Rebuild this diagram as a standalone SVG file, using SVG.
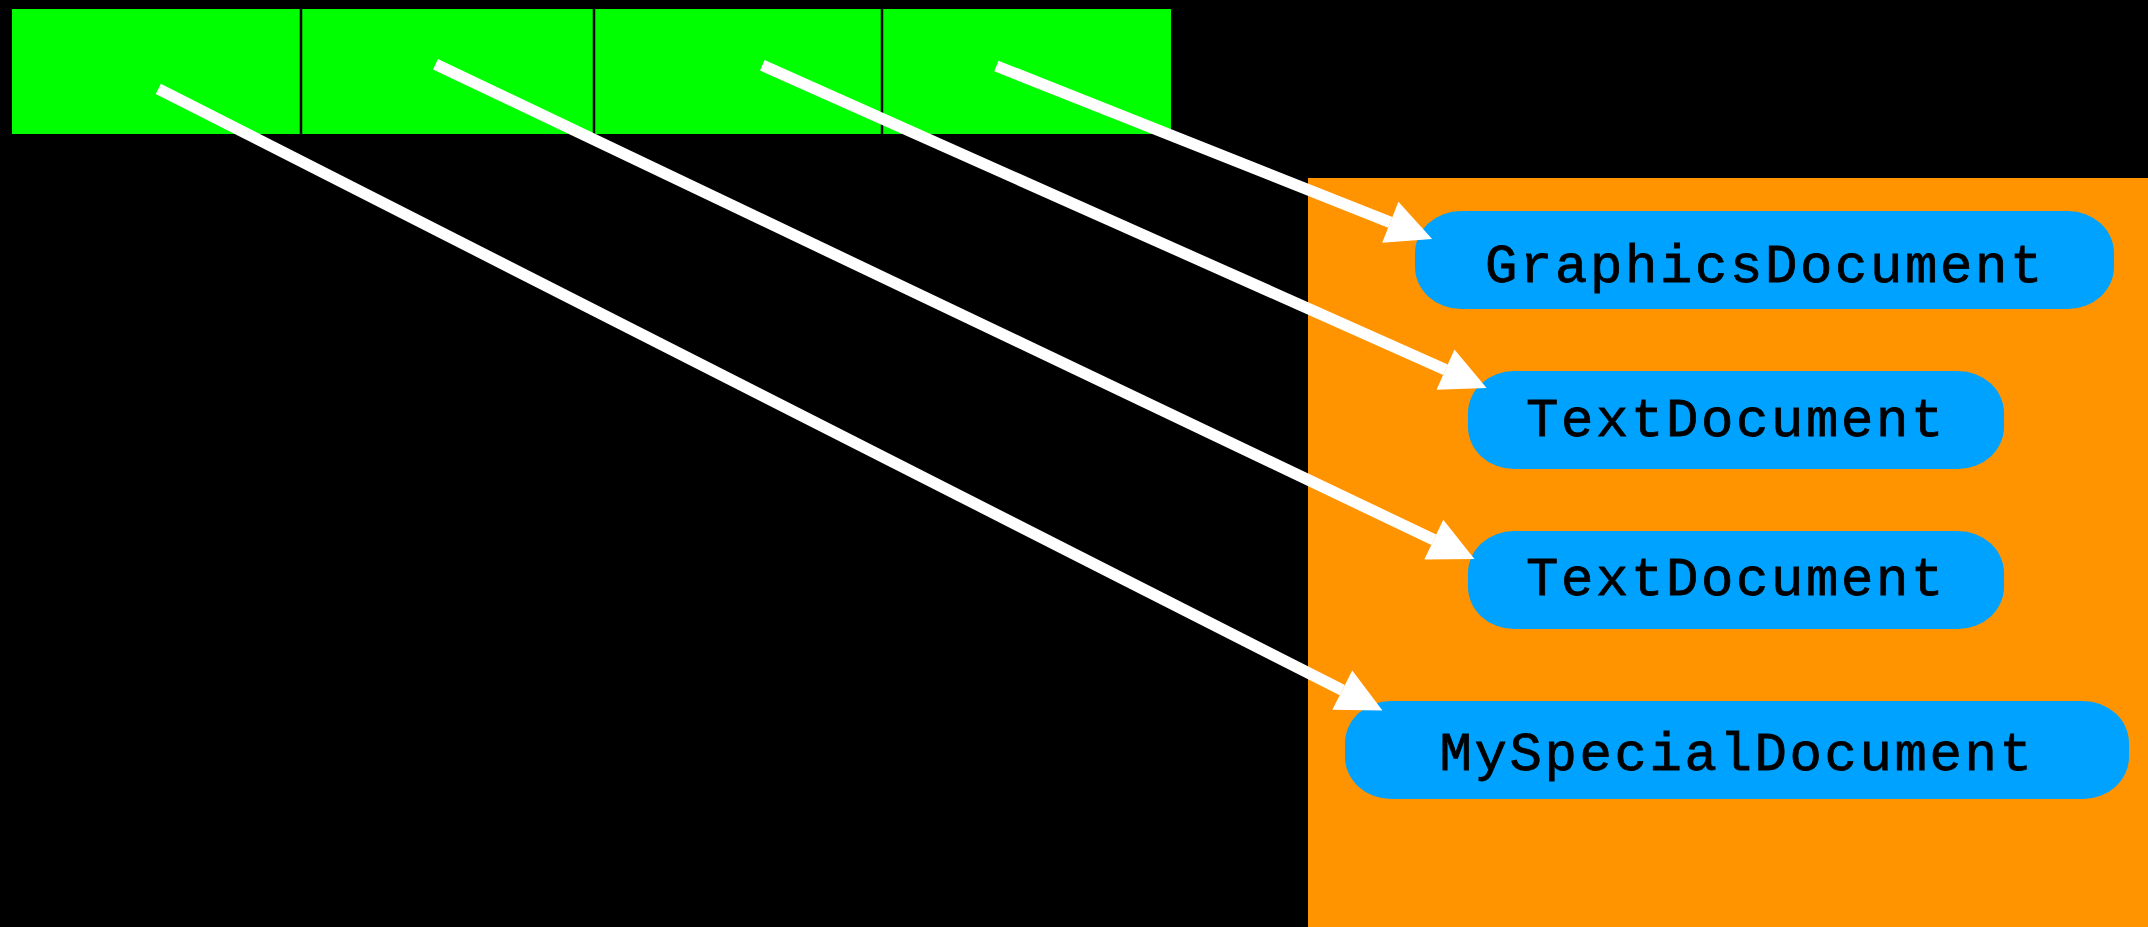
<svg xmlns="http://www.w3.org/2000/svg" width="2148" height="927" viewBox="0 0 2148 927">
  <style>
    .cell { fill: #00ff00; }
    .div { stroke: #000000; stroke-width: 2.5; }
    .cluster { fill: #ff9400; }
    .node rect { fill: #00a2ff; }
    .node text { font-family: "Liberation Mono", "DejaVu Sans Mono", monospace; font-size: 54px; letter-spacing: 2.6px; fill: #000000; stroke: #000000; stroke-width: 0.8px; text-anchor: middle; }
    .edge { stroke: #ffffff; stroke-width: 11.5; fill: none; marker-end: url(#arrow); }
  </style>
  <defs>
    <marker id="arrow" markerUnits="userSpaceOnUse" markerWidth="48" markerHeight="48" refX="0" refY="22" orient="auto" viewBox="0 0 48 48" overflow="visible">
      <path d="M0,0 L45,22 L0,44 Z" fill="#ffffff"/>
    </marker>
  </defs>
  <rect x="0" y="0" width="2148" height="927" fill="#000000"/>

  <g id="array">
    <rect class="cell" x="12" y="9" width="1159" height="125"/>
    <line class="div" x1="301" y1="9" x2="301" y2="134"/>
    <line class="div" x1="594" y1="9" x2="594" y2="134"/>
    <line class="div" x1="882" y1="9" x2="882" y2="134"/>
  </g>

  <g id="cluster">
    <rect class="cluster" x="1308" y="178" width="840" height="749"/>
  </g>

  <g id="node-graphics" class="node">
    <rect x="1415" y="211" width="699" height="98" rx="46" ry="42"/>
    <text x="1765" y="282">GraphicsDocument</text>
  </g>
  <g id="node-text1" class="node">
    <rect x="1468" y="371" width="536" height="98" rx="46" ry="42"/>
    <text x="1736" y="436">TextDocument</text>
  </g>
  <g id="node-text2" class="node">
    <rect x="1468" y="531" width="536" height="98" rx="46" ry="42"/>
    <text x="1736" y="595">TextDocument</text>
  </g>
  <g id="node-special" class="node">
    <rect x="1345" y="701" width="784" height="98" rx="46" ry="42"/>
    <text x="1737" y="770">MySpecialDocument</text>
  </g>

  <g id="connectors">
    <line class="edge" x1="158.3" y1="88.8" x2="1342.3" y2="690.2"/>
    <line class="edge" x1="435.5" y1="64.2" x2="1433.8" y2="539.7"/>
    <line class="edge" x1="762.3" y1="65.3" x2="1445.5" y2="369.7"/>
    <line class="edge" x1="996.4" y1="66" x2="1390.3" y2="222.3"/>
  </g>
</svg>
